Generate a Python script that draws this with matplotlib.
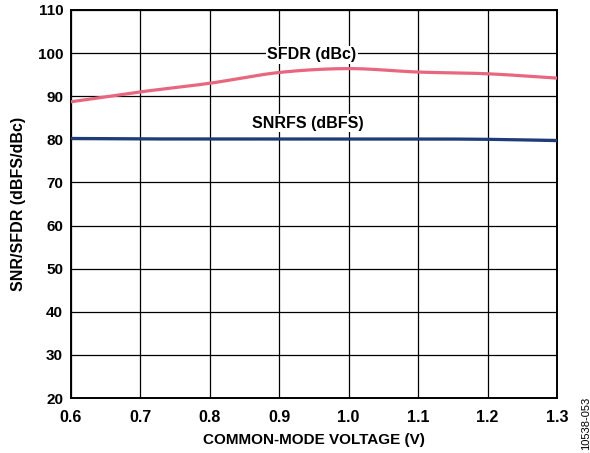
import numpy as np
import matplotlib.pyplot as plt

# common-mode voltage (V)
vcm = [0.6, 0.7, 0.8, 0.9, 1.0, 1.1, 1.2, 1.3]
sfdr = [88.7, 91.0, 93.0, 95.5, 96.4, 95.6, 95.2, 94.2]
snrfs = [80.2, 80.1, 80.1, 80.1, 80.1, 80.1, 80.0, 79.7]

plt.rcParams['font.family'] = ['Liberation Sans', 'DejaVu Sans']
plt.rcParams['font.weight'] = 'bold'

fig = plt.figure(figsize=(5.9, 4.53), dpi=100)
ax = fig.add_axes([0.120, 0.1214, 0.824, 0.8566])

# smooth the curves a little between the read points
xs = np.linspace(vcm[0], vcm[-1], 200)
def smooth(x, y):
    # piecewise cubic (catmull-rom) through the points
    x = np.asarray(x); y = np.asarray(y)
    out = np.empty_like(xs)
    for k, xv in enumerate(xs):
        i = min(np.searchsorted(x, xv, side='right') - 1, len(x) - 2)
        t = (xv - x[i]) / (x[i + 1] - x[i])
        p0 = y[i - 1] if i > 0 else 2 * y[i] - y[i + 1]
        p1, p2 = y[i], y[i + 1]
        p3 = y[i + 2] if i + 2 < len(y) else 2 * y[i + 1] - y[i]
        out[k] = 0.5 * ((2 * p1) + (-p0 + p2) * t + (2 * p0 - 5 * p1 + 4 * p2 - p3) * t ** 2
                        + (-p0 + 3 * p1 - 3 * p2 + p3) * t ** 3)
    return out

ax.plot(xs, smooth(vcm, sfdr), color='#E8677E', lw=2.3, zorder=3)
ax.plot(xs, smooth(vcm, snrfs), color='#1F3C7A', lw=2.3, zorder=3)

ax.text(0.947, 99.6, 'SFDR (dBc)', ha='center', va='center', fontsize=11.5,
        fontweight='bold', bbox=dict(fc='white', ec='none', pad=1), zorder=4)
ax.text(0.941, 83.7, 'SNRFS (dBFS)', ha='center', va='center', fontsize=11.5,
        fontweight='bold', bbox=dict(fc='white', ec='none', pad=1), zorder=4)

ax.set_xlim(0.6, 1.3)
ax.set_ylim(20, 110)
ax.set_xticks(vcm)
ax.set_xticklabels(['%.1f' % v for v in vcm])
ax.set_yticks(range(20, 111, 10))
ax.grid(True, color='black', lw=0.9)
ax.tick_params(length=0, labelsize=11)
ax.tick_params(axis='x', pad=8.5, labelsize=11.5)
ax.tick_params(axis='y', pad=5.5)
for lab in ax.get_xticklabels() + ax.get_yticklabels():
    lab.set_fontweight('bold')
for s in ax.spines.values():
    s.set_linewidth(1.4)

ax.set_xlabel('COMMON-MODE VOLTAGE (V)', fontsize=11, fontweight='bold', labelpad=6)
ax.set_ylabel('SNR/SFDR (dBFS/dBc)', fontsize=11.5, fontweight='bold', labelpad=5)
ax.yaxis.set_label_coords(-0.093, 0.5)

fig.text(0.994, 0.065, '10538-053', rotation=90, fontsize=8, fontweight='normal',
         ha='center', va='center')

fig.savefig('out.png', dpi=100)
